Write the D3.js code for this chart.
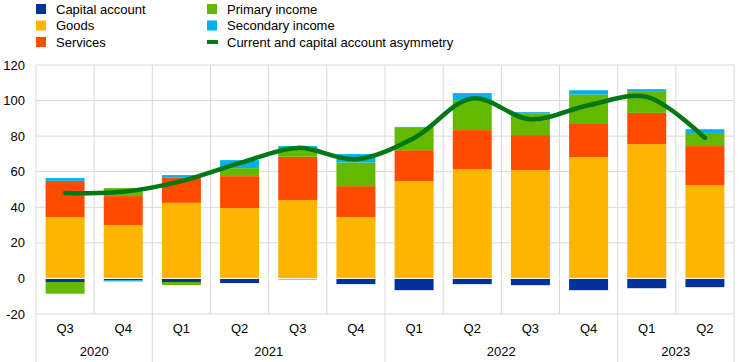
<!DOCTYPE html>
<html lang="en">
<head>
<meta charset="UTF-8">
<title>Current and capital account asymmetry</title>
<script src="https://d3js.org/d3.v7.min.js"></script>
<style>
    body { margin: 0; background: #fff; font-family: "Liberation Sans", Arial, sans-serif; }
    svg text { font-size: 13px; fill: #000; }
</style>
</head>
<body>
<svg id="chart" width="745" height="362"></svg>
<script>
    // quarters and years
    const quarters = ["Q3", "Q4", "Q1", "Q2", "Q3", "Q4", "Q1", "Q2", "Q3", "Q4", "Q1", "Q2"];
    const years = [
        { label: "2020", n: 2 },
        { label: "2021", n: 4 },
        { label: "2022", n: 4 },
        { label: "2023", n: 2 }
    ];

    // components (EUR bn)
    const capital   = [-2.0, -1.1, -2.0, -2.6, -0.5, -3.2, -6.6, -3.2, -3.8, -6.6, -5.5, -4.9];
    const goods     = [34.5, 30.0, 42.5, 39.5, 44.0, 34.5, 54.7, 61.4, 60.9, 68.2, 75.5, 52.4];
    const services  = [20.4, 16.3, 14.1, 18.0, 24.4, 17.4, 17.4, 22.0, 19.7, 19.1, 17.6, 22.0];
    const primary   = [-6.6, 4.5, -1.7, 4.5, 4.3, 13.3, 12.6, 16.8, 12.3, 16.1, 12.2, 7.4];
    const secondary = [1.5, -0.6, 1.5, 4.5, 1.7, 4.7, 0.5, 4.0, 0.6, 2.4, 1.1, 2.1];
    const asymmetry = [48.1, 48.7, 54.7, 64.8, 73.4, 67.0, 79.0, 101.2, 89.5, 97.4, 102.1, 79.0];

    const yTicks = [-20, 0, 20, 40, 60, 80, 100, 120];

    const series = [
        { key: "Capital account", values: capital, color: "#003299" },
        { key: "Goods", values: goods, color: "#FFB400" },
        { key: "Services", values: services, color: "#FF4B00" },
        { key: "Primary income", values: primary, color: "#65B800" },
        { key: "Secondary income", values: secondary, color: "#00B1EA" }
    ];
    const lineColor = "#007816";

    const svg = d3.select("#chart");
    const margin = { top: 65, right: 11, bottom: 48, left: 36 };
    const width = 745 - margin.left - margin.right;
    const height = 362 - margin.top - margin.bottom;

    const g = svg.append("g").attr("transform", `translate(${margin.left},${margin.top})`);

    const idx = d3.range(quarters.length);
    const x = d3.scaleBand().domain(idx).range([0, width]).paddingInner(0.33).paddingOuter(0.165);
    const xc = i => x(i) + x.bandwidth() / 2;
    const step = x.step();
    const y = d3.scaleLinear().domain([-20, 120]).range([height, 0]);

    // horizontal gridlines
    g.append("g").selectAll("line").data(yTicks).join("line")
        .attr("x1", 0).attr("x2", width)
        .attr("y1", d => y(d)).attr("y2", d => y(d))
        .attr("stroke", "#d9d9d9").attr("stroke-width", 1);

    // vertical separators: quarter ones stop at the axis, year ones continue into the labels
    const yearStarts = [0];
    years.forEach(yr => yearStarts.push(yearStarts[yearStarts.length - 1] + yr.n));
    d3.range(quarters.length + 1).forEach(k => {
        const isYear = yearStarts.includes(k);
        g.append("line")
            .attr("x1", k * step).attr("x2", k * step)
            .attr("y1", 0).attr("y2", isYear ? height + margin.bottom : height)
            .attr("stroke", "#d9d9d9").attr("stroke-width", 1);
    });

    // y-axis labels
    g.append("g").selectAll("text").data(yTicks).join("text")
        .attr("x", -11).attr("y", d => y(d)).attr("dy", "0.35em")
        .attr("text-anchor", "end")
        .text(d => d);

    // stacked bars (positive and negative stacked separately)
    const stacked = d3.stack()
        .keys(series.map(s => s.key))
        .value((i, key) => series.find(s => s.key === key).values[i])
        .offset(d3.stackOffsetDiverging)(idx);

    stacked.forEach((layer, li) => {
        g.append("g").attr("fill", series[li].color)
            .selectAll("rect").data(layer).join("rect")
            .attr("x", d => x(d.data))
            .attr("width", x.bandwidth())
            .attr("y", d => y(Math.max(d[0], d[1])))
            .attr("height", d => Math.abs(y(d[0]) - y(d[1])));
    });

    // zero line
    g.append("line")
        .attr("x1", 0).attr("x2", width)
        .attr("y1", y(0)).attr("y2", y(0))
        .attr("stroke", "#ffffff").attr("stroke-width", 1);

    // asymmetry line
    const line = d3.line()
        .x((d, i) => xc(i))
        .y(d => y(d))
        .curve(d3.curveCatmullRom.alpha(0.5));
    g.append("path")
        .datum(asymmetry)
        .attr("d", line)
        .attr("fill", "none")
        .attr("stroke", lineColor)
        .attr("stroke-width", 4.5)
        .attr("stroke-linecap", "round");

    // x labels
    g.append("g").selectAll("text").data(quarters).join("text")
        .attr("x", (d, i) => xc(i)).attr("y", height + 14).attr("dy", "0.35em")
        .attr("text-anchor", "middle")
        .text(d => d);
    g.append("g").selectAll("text").data(years).join("text")
        .attr("x", (d, i) => (yearStarts[i] + d.n / 2) * step)
        .attr("y", height + 37).attr("dy", "0.35em")
        .attr("text-anchor", "middle")
        .text(d => d.label);

    // legend
    const legendItems = [
        { key: "Capital account", color: "#003299", col: 0, row: 0 },
        { key: "Goods", color: "#FFB400", col: 0, row: 1 },
        { key: "Services", color: "#FF4B00", col: 0, row: 2 },
        { key: "Primary income", color: "#65B800", col: 1, row: 0 },
        { key: "Secondary income", color: "#00B1EA", col: 1, row: 1 },
        { key: "Current and capital account asymmetry", color: lineColor, col: 1, row: 2, line: true }
    ];
    const colX = [36, 207];
    const rowY = [9, 25.5, 42];
    const lg = svg.append("g");
    legendItems.forEach(item => {
        const lx = colX[item.col], ly = rowY[item.row];
        if (item.line) {
            lg.append("rect").attr("x", lx).attr("y", ly - 2).attr("width", 11).attr("height", 4).attr("fill", item.color);
        } else {
            lg.append("rect").attr("x", lx).attr("y", ly - 5).attr("width", 10).attr("height", 10).attr("fill", item.color);
        }
        lg.append("text").attr("x", lx + 20).attr("y", ly).attr("dy", "0.35em").text(item.key);
    });
</script>
</body>
</html>
